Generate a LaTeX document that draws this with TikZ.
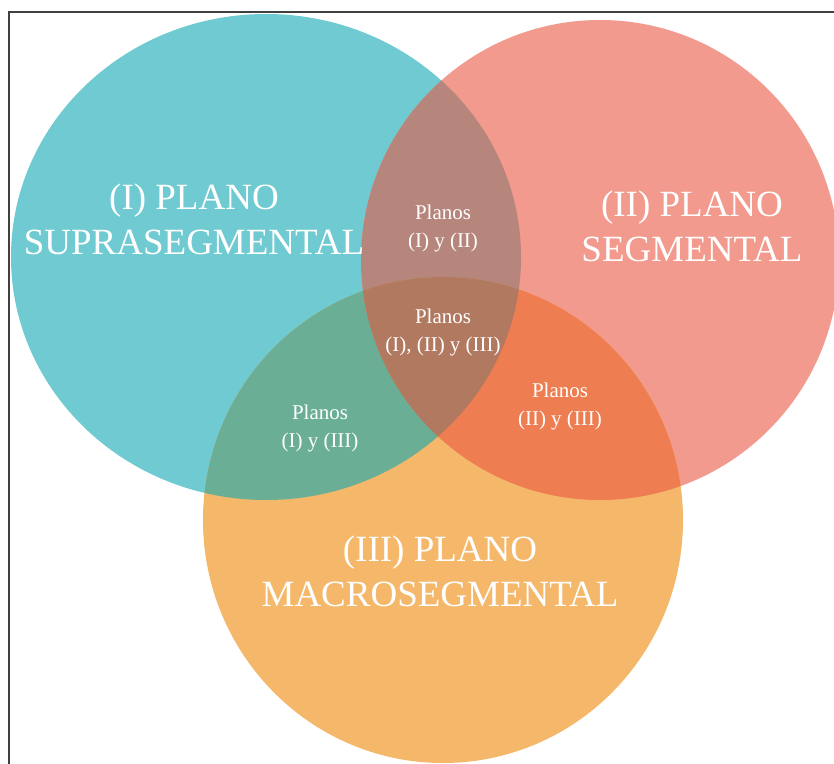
\documentclass[tikz,border=0pt]{standalone}
\usepackage{fontspec}
\setmainfont{Liberation Serif}
\definecolor{fillI}{HTML}{6FCBD1}
\definecolor{fillII}{HTML}{F19A8D}
\definecolor{fillIII}{HTML}{F5B76A}
\definecolor{fillIandII}{HTML}{B6857B}
\definecolor{fillIandIII}{HTML}{6BAE96}
\definecolor{fillIIandIII}{HTML}{EE7D52}
\definecolor{fillAll}{HTML}{B27961}
\definecolor{framegray}{HTML}{404040}
\begin{document}
\begin{tikzpicture}[x=1pt,y=-1pt,
  ringI/.style={insert path={(266,257) ellipse [x radius=255pt, y radius=243pt]}},
  ringII/.style={insert path={(600,260) ellipse [x radius=239pt, y radius=240pt]}},
  ringIII/.style={insert path={(443,520) ellipse [x radius=240pt, y radius=243pt]}},
  biglabel/.style={text=white, font=\fontsize{37}{45}\selectfont, align=center, inner sep=0pt},
  smalllabel/.style={text=white, font=\fontsize{21}{28}\selectfont, align=center, inner sep=0pt}]
\useasboundingbox (0,0) rectangle (834,763);
\clip (0,0) rectangle (834,763);
% outer frame
\draw[framegray, line width=2pt] (9,12) rectangle (900,900);
% the three sets
\fill[fillI, ringI];
\fill[fillII, ringII];
\fill[fillIII, ringIII];
% pairwise overlaps
\begin{scope}
  \clip[ringI];
  \fill[fillIandII, ringII];
  \fill[fillIandIII, ringIII];
\end{scope}
\begin{scope}
  \clip[ringII];
  \fill[fillIIandIII, ringIII];
\end{scope}
% common part of all three
\begin{scope}
  \clip[ringI];
  \clip[ringII];
  \fill[fillAll, ringIII];
\end{scope}
% labels
\node[biglabel] (planoI) at (194,219) {(I) PLANO\\SUPRASEGMENTAL};
\node[biglabel] (planoII) at (692,226) {(II) PLANO\\SEGMENTAL};
\node[biglabel] (planoIII) at (440,571) {(III) PLANO\\MACROSEGMENTAL};
\node[smalllabel] (IyII) at (443,228) {Planos\\(I) y (II)};
\node[smalllabel] (todos) at (443,332) {Planos\\(I), (II) y (III)};
\node[smalllabel] (IyIII) at (320,428) {Planos\\(I) y (III)};
\node[smalllabel] (IIyIII) at (560,406) {Planos\\(II) y (III)};
\end{tikzpicture}
\end{document}
